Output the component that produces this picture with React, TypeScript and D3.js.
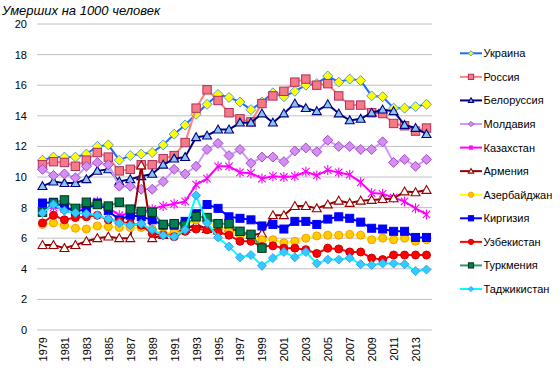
import React from "react";
import * as d3 from "d3";

const years: number[] = d3.range(1979, 2015);
const yTicks: number[] = [0, 2, 4, 6, 8, 10, 12, 14, 16, 18, 20];
const xTickYears: number[] = d3.range(1979, 2015, 2);

const ukraine = [11.1, 11.3, 11.3, 11.3, 11.5, 12.0, 12.1, 11.1, 11.4, 11.5, 11.6, 12.1, 12.8, 13.4, 14.1, 14.75, 15.4, 15.2, 14.9, 14.4, 14.9, 15.5, 15.25, 15.6, 16.0, 16.1, 16.6, 16.2, 16.4, 16.3, 15.3, 15.25, 14.5, 14.5, 14.6, 14.75];
const russia = [10.8, 11.0, 10.95, 10.7, 11.1, 11.6, 11.3, 10.4, 10.5, 10.8, 10.8, 11.2, 11.4, 12.25, 14.5, 15.7, 15.0, 14.2, 13.8, 13.6, 14.8, 15.3, 15.6, 16.2, 16.4, 16.0, 16.1, 15.3, 14.7, 14.7, 14.2, 14.15, 13.5, 13.35, 13.0, 13.2];
const belarus = [9.4, 9.7, 9.6, 9.6, 9.85, 10.4, 10.5, 9.7, 9.85, 10.05, 10.2, 10.8, 11.2, 11.3, 12.6, 12.7, 13.1, 13.1, 13.55, 13.55, 14.15, 13.55, 14.15, 14.8, 14.5, 14.3, 14.75, 14.15, 13.7, 13.8, 14.2, 14.4, 14.3, 13.4, 13.2, 12.8];
const moldova = [10.5, 10.1, 10.2, 9.95, 10.7, 10.95, 10.8, 9.4, 9.4, 9.2, 9.2, 9.7, 10.5, 10.2, 10.7, 11.8, 12.2, 11.4, 11.8, 10.9, 11.3, 11.3, 11.0, 11.7, 11.9, 11.65, 12.4, 12.0, 12.0, 11.8, 11.8, 12.3, 10.95, 11.15, 10.7, 11.15];
const kazakhstan = [7.9, 8.0, 7.9, 7.9, 8.1, 8.4, 8.0, 7.5, 7.6, 7.7, 7.9, 8.1, 8.25, 8.4, 9.5, 9.9, 10.7, 10.7, 10.3, 10.25, 9.9, 10.05, 10.0, 10.05, 10.35, 10.1, 10.45, 10.3, 10.15, 9.65, 8.95, 8.9, 8.65, 8.4, 7.95, 7.55];
const armenia = [5.55, 5.55, 5.35, 5.55, 5.8, 6.0, 6.1, 6.0, 6.0, 10.75, 6.0, 6.2, 6.4, 6.6, 6.9, 6.6, 6.5, 6.7, 6.4, 6.2, 6.3, 7.5, 7.5, 8.1, 8.1, 7.95, 8.2, 8.45, 8.3, 8.45, 8.5, 8.55, 8.6, 9.05, 9.0, 9.15];
const azerbaijan = [6.9, 7.0, 6.85, 6.65, 6.6, 6.8, 6.75, 6.7, 6.7, 6.7, 6.6, 6.3, 6.4, 6.8, 7.2, 7.1, 6.75, 6.45, 6.2, 6.1, 5.9, 5.9, 5.7, 5.8, 6.0, 6.15, 6.2, 6.2, 6.25, 6.2, 5.9, 6.0, 5.9, 6.0, 5.8, 5.9];
const kyrgyzstan = [8.3, 8.35, 8.05, 7.75, 7.9, 8.3, 7.8, 7.2, 7.5, 7.4, 7.2, 6.85, 6.85, 7.1, 7.6, 8.2, 7.95, 7.4, 7.3, 7.2, 6.8, 6.9, 6.6, 7.1, 7.1, 6.9, 7.25, 7.4, 7.3, 7.05, 6.65, 6.6, 6.45, 6.45, 6.05, 6.05];
const uzbekistan = [7.0, 7.5, 7.2, 7.35, 7.4, 7.5, 7.2, 7.1, 6.95, 6.85, 6.3, 6.2, 6.1, 6.45, 6.6, 6.55, 6.4, 6.2, 5.8, 5.8, 5.45, 5.5, 5.35, 5.35, 5.25, 5.0, 5.35, 5.3, 5.1, 5.1, 4.7, 4.6, 4.9, 4.9, 4.9, 4.9];
const turkmenistan: (number | null)[] = [7.7, 8.3, 8.5, 7.95, 8.35, 8.2, 8.1, 8.35, 7.9, 7.75, 7.7, 6.9, 6.95, 6.85, 7.4, 7.35, 6.95, 6.95, 6.45, 6.25, 5.35, null, null, null, null, null, null, null, null, null, null, null, null, null, null, null];
const tajikistan = [7.65, 8.2, 7.8, 7.65, 7.6, 7.5, 7.25, 7.0, 6.85, 6.95, 6.55, 6.2, 6.1, 6.55, 8.8, 7.0, 6.05, 5.45, 4.75, 4.9, 4.2, 4.7, 5.1, 4.75, 5.1, 4.35, 4.6, 4.6, 4.7, 4.3, 4.25, 4.35, 4.35, 4.3, 3.85, 3.95];

type Marker = "diamond" | "square" | "triangle" | "star" | "circle";
interface Series { name: string; values: (number | null)[]; line: string; fill: string; stroke: string; marker: Marker; size: number; }

const series: Series[] = [
  { name: "Украина", values: ukraine, line: "#1a6cff", fill: "#ffff00", stroke: "#3c8cff", marker: "diamond", size: 5 },
  { name: "Россия", values: russia, line: "#ff8080", fill: "#f47a86", stroke: "#b03060", marker: "square", size: 4.2 },
  { name: "Белоруссия", values: belarus, line: "#000080", fill: "#8ac6f0", stroke: "#000080", marker: "triangle", size: 4.5 },
  { name: "Молдавия", values: moldova, line: "#cc99ff", fill: "#d28ef0", stroke: "#a040c0", marker: "diamond", size: 5 },
  { name: "Казахстан", values: kazakhstan, line: "#ff00ff", fill: "none", stroke: "#ff00ff", marker: "star", size: 5 },
  { name: "Армения", values: armenia, line: "#990000", fill: "#ffffff", stroke: "#990000", marker: "triangle", size: 4.5 },
  { name: "Азербайджан", values: azerbaijan, line: "#ffff00", fill: "#ffcc00", stroke: "#ff9900", marker: "circle", size: 4 },
  { name: "Киргизия", values: kyrgyzstan, line: "#0000ff", fill: "#0000ff", stroke: "#0000ff", marker: "square", size: 4 },
  { name: "Узбекистан", values: uzbekistan, line: "#ff0000", fill: "#ff0000", stroke: "#cc0000", marker: "circle", size: 4 },
  { name: "Туркмения", values: turkmenistan, line: "#339966", fill: "#008050", stroke: "#003020", marker: "square", size: 4.2 },
  { name: "Таджикистан", values: tajikistan, line: "#00ffff", fill: "#33ccff", stroke: "#3399ff", marker: "diamond", size: 4.5 },
];

const FONT = "'Liberation Sans', Arial, sans-serif";

function MarkerShape({ m, x, y, fill, stroke, s }: { m: Marker; x: number; y: number; fill: string; stroke: string; s: number }) {
  if (m === "diamond") {
    return <path d={`M${x},${y - s}L${x + s},${y}L${x},${y + s}L${x - s},${y}Z`} fill={fill} stroke={stroke} strokeWidth={0.9} />;
  }
  if (m === "square") {
    return <rect x={x - s} y={y - s} width={2 * s} height={2 * s} fill={fill} stroke={stroke} strokeWidth={1} />;
  }
  if (m === "triangle") {
    return <path d={`M${x},${y - s}L${x + s},${y + s * 0.75}L${x - s},${y + s * 0.75}Z`} fill={fill} stroke={stroke} strokeWidth={1.1} />;
  }
  if (m === "circle") {
    return <circle cx={x} cy={y} r={s} fill={fill} stroke={stroke} strokeWidth={1} />;
  }
  const d = s * 0.75;
  return (
    <path d={`M${x},${y - s}L${x},${y + s}M${x - d},${y - d}L${x + d},${y + d}M${x - d},${y + d}L${x + d},${y - d}`} stroke={stroke} strokeWidth={1.1} fill="none" />
  );
}

export default function App() {
  const W = 560, H = 376;
  const x = d3.scalePoint<number>().domain(years).range([37, 432]).padding(0.5);
  const y = d3.scaleLinear().domain([0, 20]).range([330, 24]);
  const lineGen = (vals: (number | null)[]) =>
    d3.line<number>()
      .defined((_, i) => vals[i] != null)
      .x((_, i) => x(years[i]) as number)
      .y((_, i) => y(vals[i] as number))(years as number[]) || "";

  const legendY0 = 53.3, legendStep = 23.57;

  return (
    <svg width={W} height={H} style={{ position: "absolute", left: 0, top: 0, background: "#fff" }} fontFamily={FONT}>
      <text x={2} y={15} fontSize={13} fontStyle="italic" fill="#000">Умерших на 1000 человек</text>
      {yTicks.map((t) => (
        <g key={t}>
          <line x1={37} x2={432} y1={y(t)} y2={y(t)} stroke="#c0c0c0" strokeWidth={1} />
          <text x={27} y={y(t)} dy="0.36em" textAnchor="end" fontSize={11} fill="#000">{t}</text>
        </g>
      ))}
      {xTickYears.map((yr) => (
        <text key={yr} transform={`translate(${(x(yr) as number) + 0.5},337) rotate(-90)`} dy="0.36em" textAnchor="end" fontSize={11} fill="#000">{yr}</text>
      ))}
      {series.map((s) => (
        <g key={s.name}>
          <path d={lineGen(s.values)} fill="none" stroke={s.line} strokeWidth={2} strokeLinejoin="round" />
          {s.values.map((v, i) => v == null ? null : (
            <MarkerShape key={i} m={s.marker} x={x(years[i]) as number} y={y(v)} fill={s.fill} stroke={s.stroke} s={s.size} />
          ))}
        </g>
      ))}
      {series.map((s, i) => {
        const ly = legendY0 + i * legendStep;
        return (
          <g key={"lg" + s.name}>
            <line x1={460} x2={482} y1={ly} y2={ly} stroke={s.line} strokeWidth={2} />
            <MarkerShape m={s.marker} x={471} y={ly} fill={s.fill} stroke={s.stroke} s={2.6} />
            <text x={483.5} y={ly} dy="0.36em" fontSize={11} fill="#000">{s.name}</text>
          </g>
        );
      })}
    </svg>
  );
}
